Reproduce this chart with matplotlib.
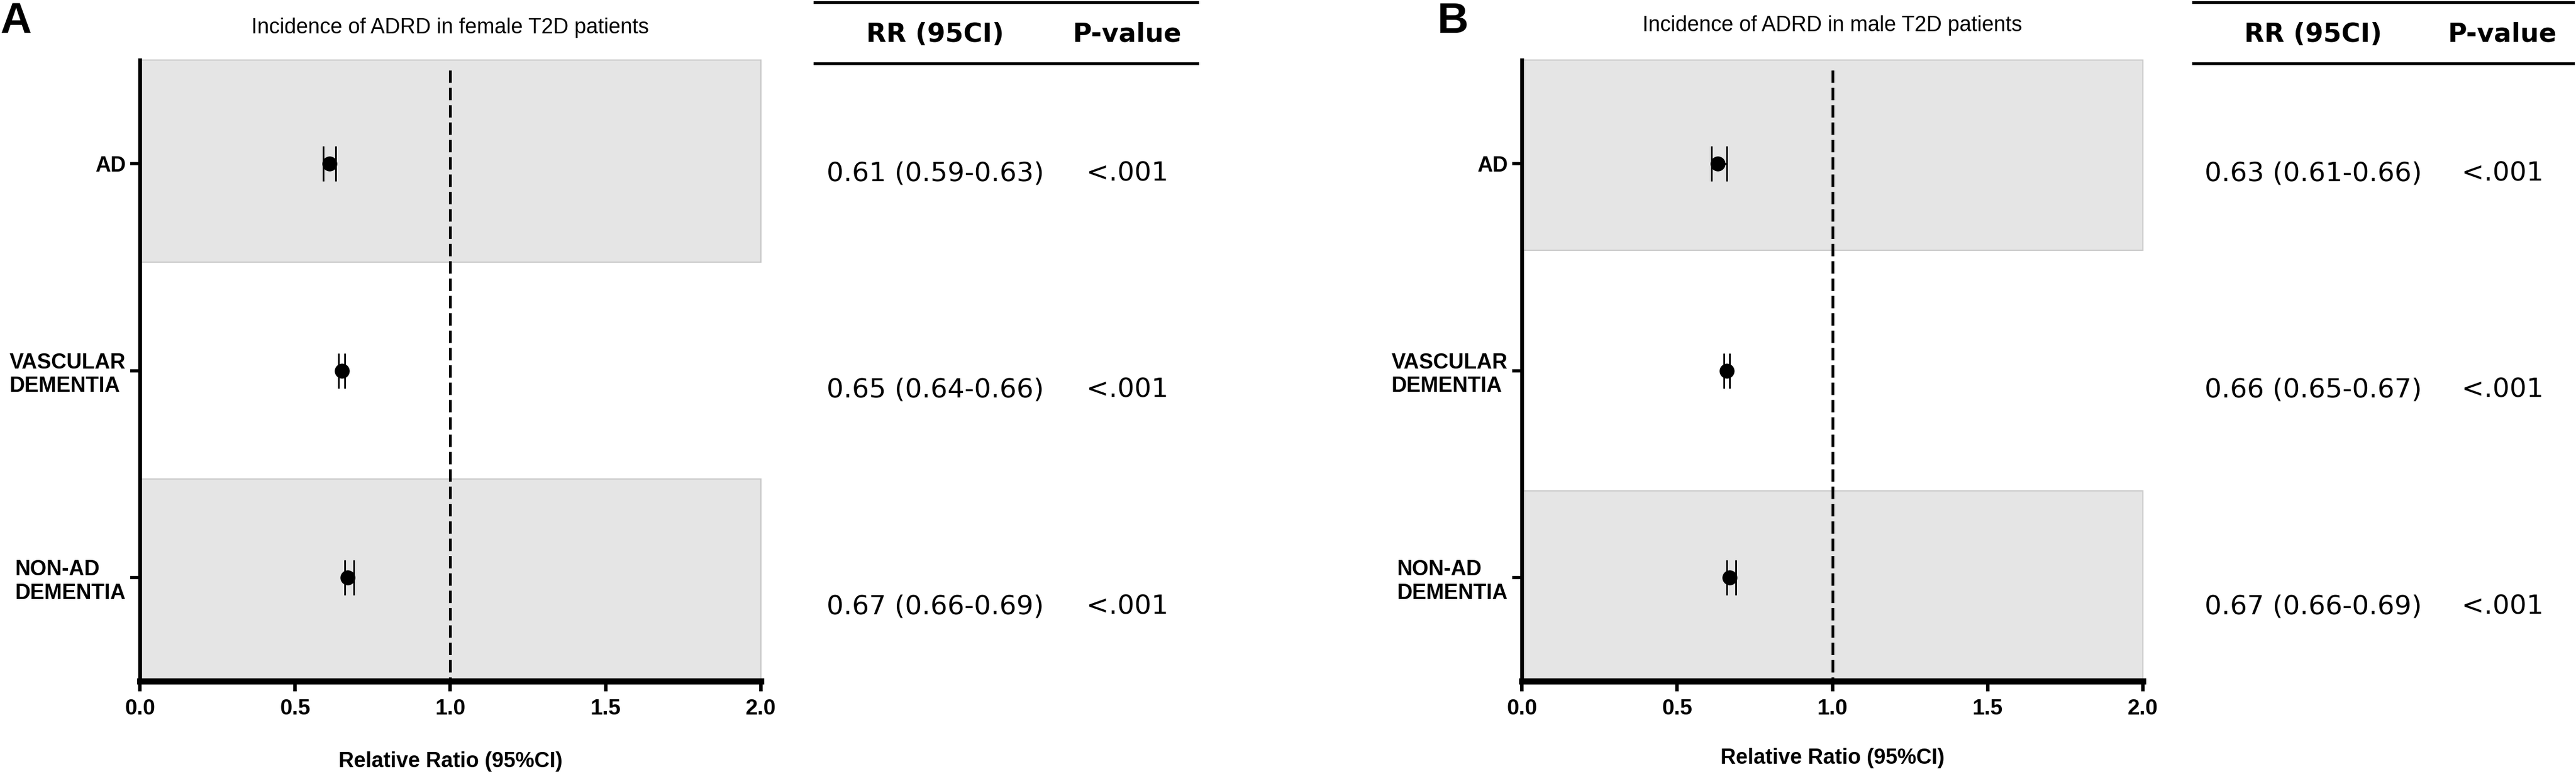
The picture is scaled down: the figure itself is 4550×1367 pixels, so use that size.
import matplotlib.pyplot as plt
from matplotlib.lines import Line2D

plt.rcParams['font.family'] = ['Liberation Sans', 'DejaVu Sans']

# data
categories = ['AD', 'VASCULAR\nDEMENTIA', 'NON-AD\nDEMENTIA']

female_rr = [0.61, 0.65, 0.67]
female_lo = [0.59, 0.64, 0.66]
female_hi = [0.63, 0.66, 0.69]
female_p = ['<.001', '<.001', '<.001']

male_rr = [0.63, 0.66, 0.67]
male_lo = [0.61, 0.65, 0.66]
male_hi = [0.66, 0.67, 0.69]
male_p = ['<.001', '<.001', '<.001']

xticks = [0.0, 0.5, 1.0, 1.5, 2.0]
xlabel = 'Relative Ratio (95%CI)'
col_headers = ['RR (95CI)', 'P-value']

W, H = 4550, 1367
fig = plt.figure(figsize=(W / 100, H / 100), dpi=100)


def fx(x):
    return x / W


def fy(y):
    return 1 - y / H


def forest(left, rr, lo, hi, title, title_pad, band_h, label_y):
    ax = fig.add_axes([fx(left), fy(1203), 1097 / W, 1097 / H])
    y = list(range(len(categories)))
    # shaded bands on first and last rows
    ax.axhspan(-0.5, -0.5 + band_h, xmin=0, xmax=1, facecolor='#e5e5e5',
               edgecolor='#c8c8c8', lw=1.5, zorder=0, clip_on=False)
    ax.axhspan(2.5 - band_h, 2.5, xmin=0, xmax=1, facecolor='#e5e5e5',
               edgecolor='#c8c8c8', lw=1.5, zorder=0, clip_on=False)
    ax.plot([1.0, 1.0], [-0.45, 2.5], color='black', lw=3.5,
            ls=(0, (4.5, 1.8)), zorder=1)
    xerr = [[r - l for r, l in zip(rr, lo)], [h - r for r, h in zip(rr, hi)]]
    ax.errorbar(rr, y, xerr=xerr, fmt='o', color='black', ms=18,
                capsize=22, capthick=2.2, elinewidth=2.2, zorder=3)
    ax.set_xlim(0, 2)
    ax.set_ylim(2.5, -0.5)
    ax.set_yticks(y)
    ax.set_yticklabels(categories, fontsize=27, fontweight='bold')
    for t in ax.get_yticklabels():
        t.set_multialignment('left')
    ax.set_xticks(xticks)
    ax.set_xticklabels([f'{t:.1f}' for t in xticks], fontsize=28,
                       fontweight='bold')
    ax.tick_params(axis='y', length=12, width=4, pad=6)
    ax.tick_params(axis='x', length=13, width=4.5, pad=9)
    ax.spines['top'].set_visible(False)
    ax.spines['right'].set_visible(False)
    ax.spines['left'].set_linewidth(4.8)
    ax.spines['bottom'].set_linewidth(7.7)
    ax.set_title(title, fontsize=27, pad=title_pad)
    ax.set_xlabel(xlabel, fontsize=27, fontweight='bold')
    ax.xaxis.set_label_coords(0.5, label_y)
    return ax


def table(x0, x1, rr_x, p_x, rr, lo, hi, p):
    for yy in [4, 112]:
        fig.add_artist(Line2D([fx(x0), fx(x1)], [fy(yy), fy(yy)],
                              color='black', lw=3.5,
                              transform=fig.transFigure))
    fig.text(fx(rr_x), fy(61), col_headers[0], ha='center', va='center',
             fontsize=33, fontweight='bold', family='DejaVu Sans')
    fig.text(fx(p_x), fy(61), col_headers[1], ha='center', va='center',
             fontsize=33, fontweight='bold', family='DejaVu Sans')
    for i, row_y in enumerate([307, 689, 1072]):
        fig.text(fx(rr_x), fy(row_y), f'{rr[i]:.2f} ({lo[i]:.2f}-{hi[i]:.2f})',
                 ha='center', va='center', fontsize=34, family='DejaVu Sans')
        fig.text(fx(p_x), fy(row_y), p[i], ha='center', va='center',
                 fontsize=34, family='DejaVu Sans')


forest(247, female_rr, female_lo, female_hi,
       'Incidence of ADRD in female T2D patients', 34, 0.975, -0.113)
forest(2688, male_rr, male_lo, male_hi,
       'Incidence of ADRD in male T2D patients', 37, 0.92, -0.108)

table(1439, 2115, 1652, 1991, female_rr, female_lo, female_hi, female_p)
table(3874, 4545, 4086, 4420, male_rr, male_lo, male_hi, male_p)

fig.text(0.0, fy(58), 'A', fontsize=55, fontweight='bold', va='baseline')
fig.text(fx(2539), fy(58), 'B', fontsize=55, fontweight='bold', va='baseline')

fig.savefig('out.png', dpi=100)
